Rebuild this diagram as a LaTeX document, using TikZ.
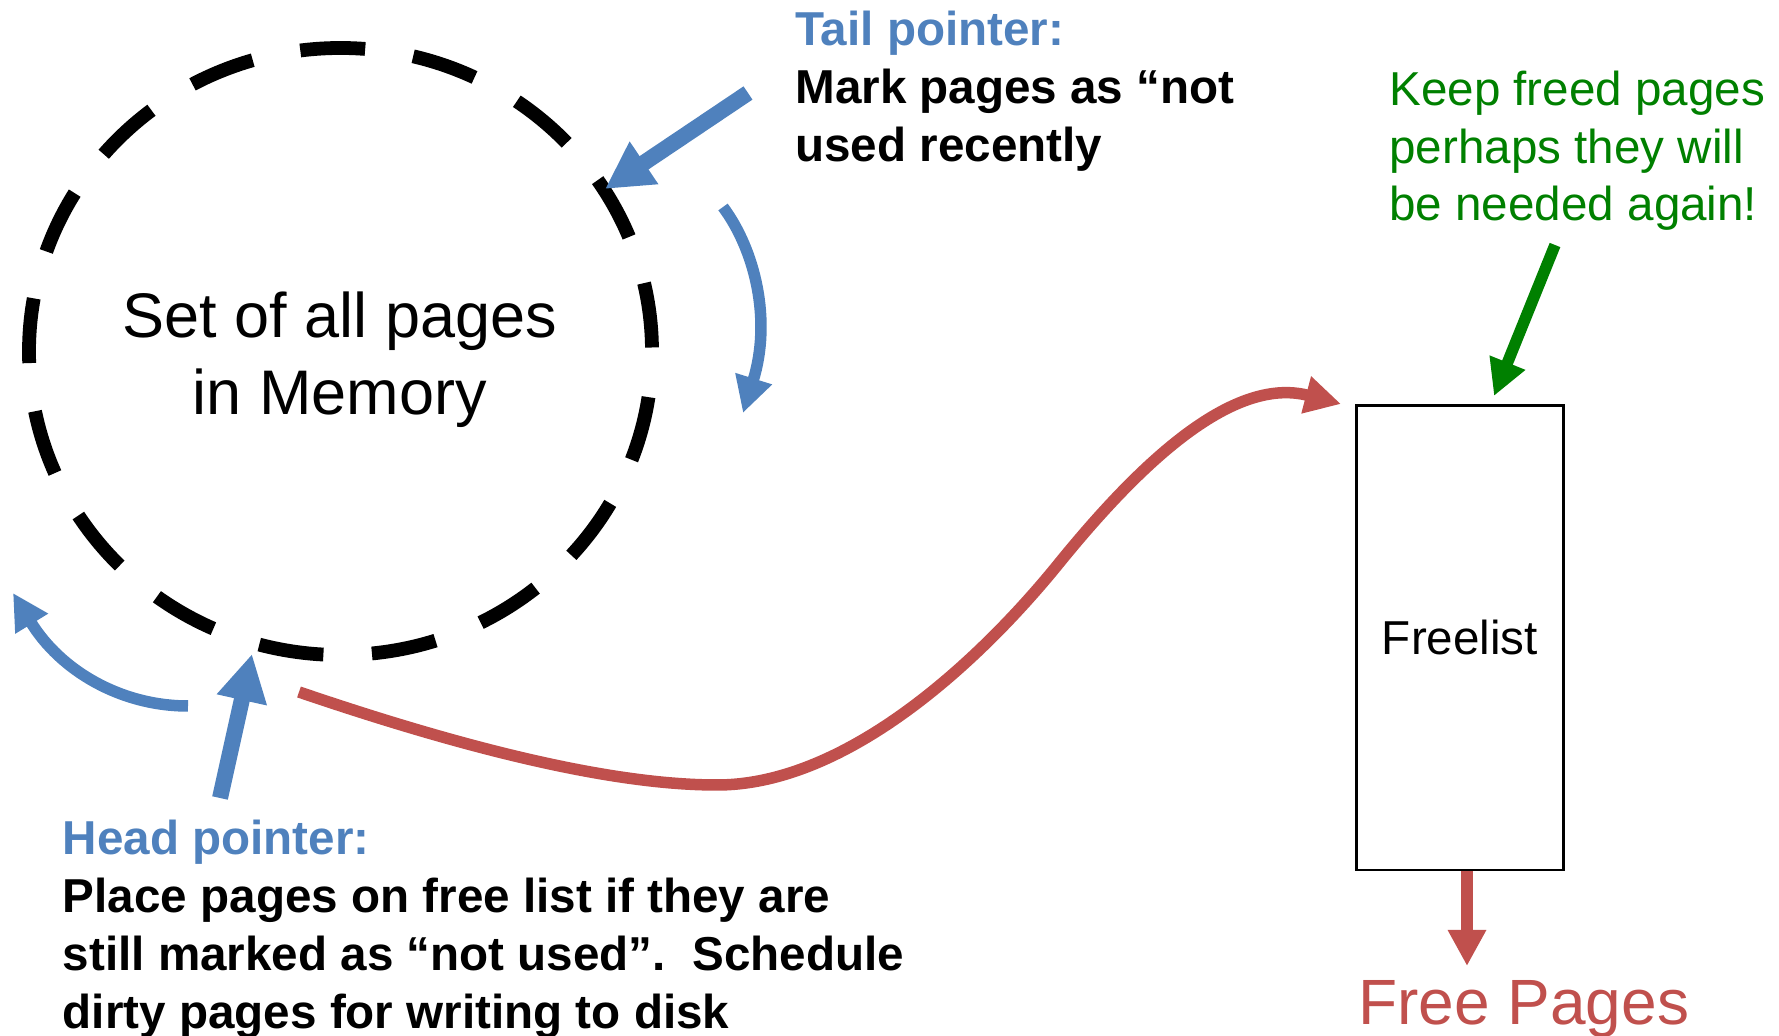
\documentclass[tikz,border=0pt]{standalone}
\usepackage{fontspec}
\setmainfont{Liberation Sans}
\usetikzlibrary{arrows.meta,shapes.geometric}
\definecolor{ptrblue}{HTML}{4F81BD}
\definecolor{freered}{HTML}{C0504D}
\definecolor{keepgreen}{HTML}{008000}
\begin{document}
\begin{tikzpicture}[x=0.5pt,y=-0.5pt,
  smallbold/.style={font=\fontsize{23.8pt}{28.9pt}\selectfont\bfseries, inner sep=0pt, align=left, anchor=north west},
  smallreg/.style={font=\fontsize{23.8pt}{28.9pt}\selectfont, inner sep=0pt, align=left, anchor=north west},
  bigtext/.style={font=\fontsize{31.5pt}{38.5pt}\selectfont, inner sep=0pt, align=center},
  memring/.style={ellipse, draw=black, line width=6.9pt, minimum width=311.5pt, minimum height=303.5pt, inner sep=0pt,
    dash pattern=on 32.5pt off 24.3pt, dash phase=54.8pt},
  listbox/.style={rectangle, draw=black, line width=1.25pt, minimum width=103.5pt, minimum height=232.25pt, inner sep=0pt,
    font=\fontsize{23.8pt}{28.9pt}\selectfont},
  thickarrow/.style={line width=8pt, -{Triangle[length=23.5pt,width=24pt]}},
  thinarrow/.style={line width=5.75pt, -{Triangle[length=18pt,width=18pt]}}
]
\useasboundingbox (0,0) rectangle (1779,1036);

% memory set
\node[memring] (mem) at (340.5,351.5) {};
\node[bigtext, anchor=north] (memtext) at (340,291) {Set of all pages\\in Memory};

% freelist box
\node[listbox] (freelist) at (1460,637.75) {Freelist};
\node[font=\fontsize{32pt}{38pt}\selectfont, text=freered, inner sep=0pt, anchor=base west] (freepages) at (1358,1025) {Free Pages};

% texts
\node[smallbold] (tail) at (795,11) {\textcolor{ptrblue}{Tail pointer:}\\Mark pages as “not\\used recently};
\node[smallreg, text=keepgreen] (keep) at (1389,70.5) {Keep freed pages\\perhaps they will\\be needed again!};
\node[smallbold] (head) at (62.5,820) {\textcolor{ptrblue}{Head pointer:}\\Place pages on free list if they are\\still marked as “not used”.\ \ Schedule\\dirty pages for writing to disk};

% connector end points
\coordinate (tailS) at (748,93);
\coordinate (tailE) at (605,189);
\coordinate (headS) at (220,798);
\coordinate (headE) at (252,654);
\coordinate (sweepRS) at (723,207);
\coordinate (sweepRE) at (743,413);
\coordinate (sweepLS) at (188,706);
\coordinate (sweepLE) at (13,593);
\coordinate (evictS) at (299,692);
\coordinate (evictE) at (1341,404);
\coordinate (keepS) at (1555,245);
\coordinate (keepE) at (1494,396);
\coordinate (outE) at (1467,966);

% arrows
\draw[ptrblue, thickarrow] (tailS) -- (tailE);
\draw[ptrblue, thickarrow] (headS) -- (headE);
\draw[ptrblue, thinarrow] (sweepRS) .. controls (755,250) and (772,320) .. (sweepRE);
\draw[ptrblue, thinarrow] (sweepLS) .. controls (120,706) and (60,670) .. (sweepLE);
\draw[freered, thinarrow] (evictS) .. controls (440,740) and (600,785) .. (717,785)
   .. controls (850,785) and (985,655) .. (1060,562)
   .. controls (1135,470) and (1230,375) .. (evictE);
\draw[keepgreen, thinarrow] (keepS) -- (keepE);
\draw[freered, thinarrow] (freelist.south -| outE) -- (outE);
\end{tikzpicture}
\end{document}
